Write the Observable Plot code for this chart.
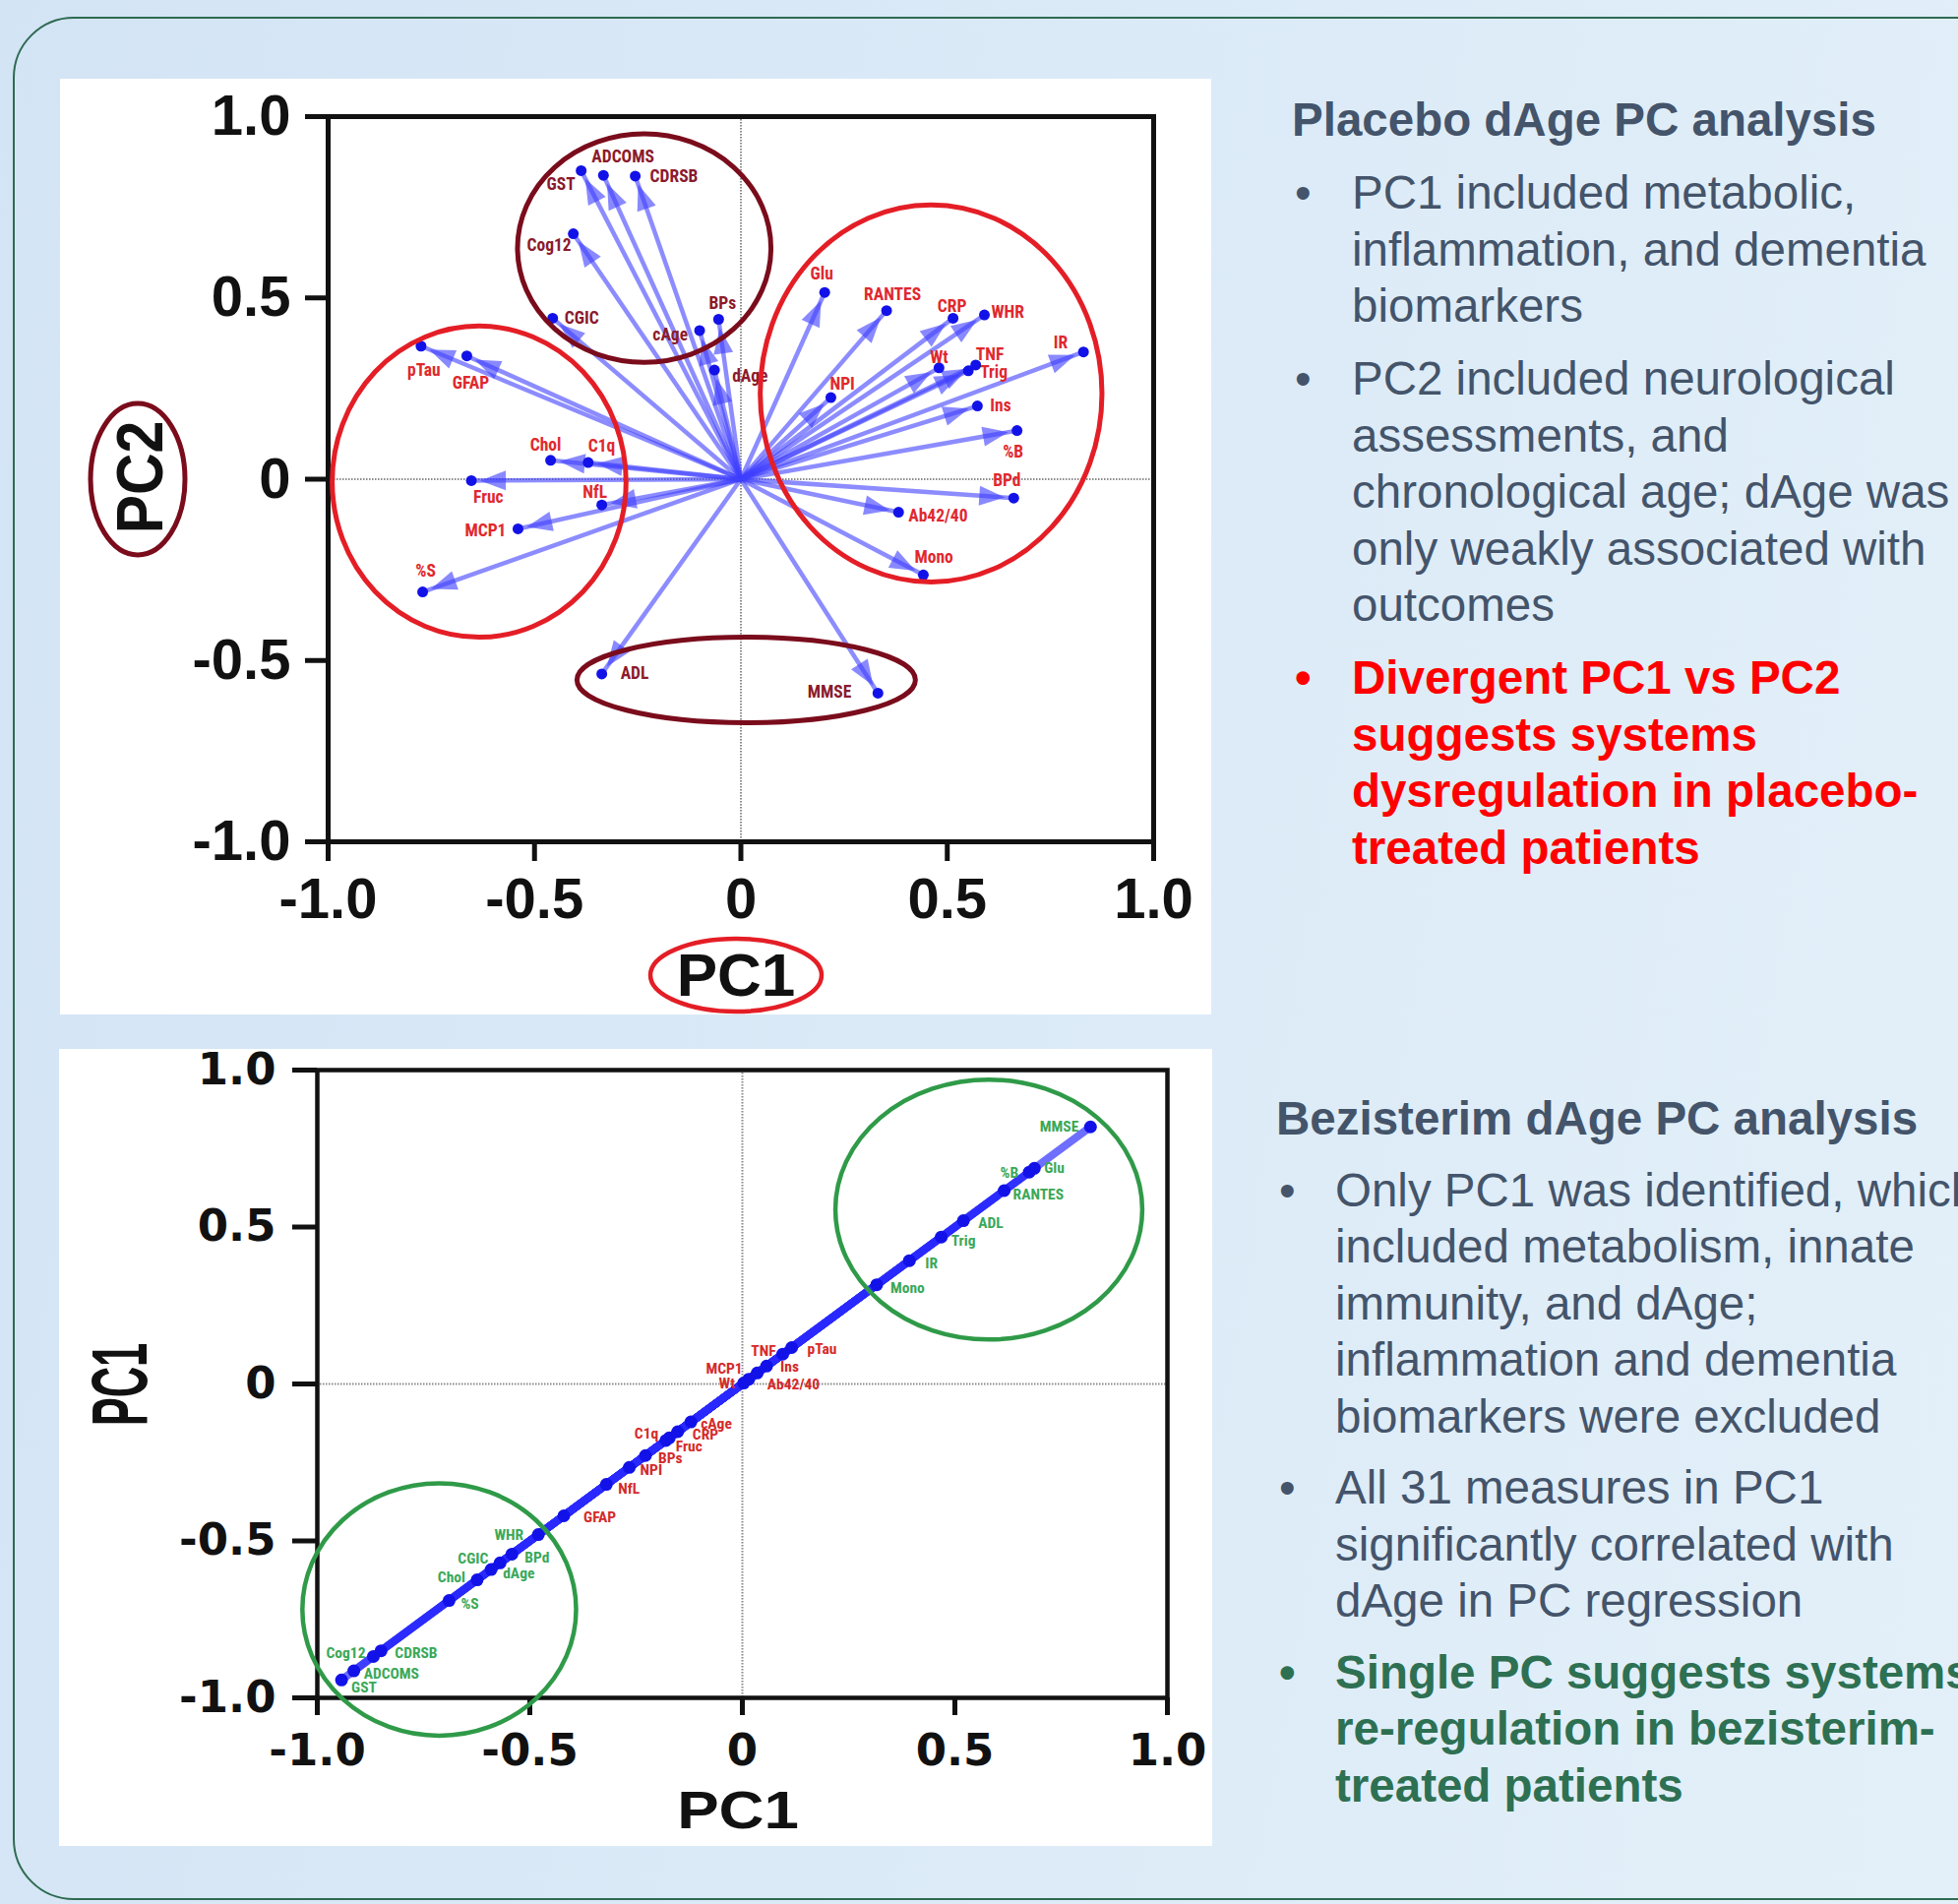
<!DOCTYPE html>
<html>
<head>
<meta charset="utf-8">
<script src="https://cdn.jsdelivr.net/npm/d3@7"></script>
<script src="https://cdn.jsdelivr.net/npm/@observablehq/plot@0.6"></script>
<style>
  html, body { margin: 0; padding: 0; }
  body {
    width: 1990px; height: 1935px; overflow: hidden; position: relative;
    background: linear-gradient(100deg, #d3e4f5 0%, #dbeaf7 50%, #e3f0f9 100%);
    font-family: "Liberation Sans", Arial, sans-serif;
  }
  #frameBox {
    position: absolute; left: 13px; top: 17px; width: 2200px; height: 1914px;
    border: 2.5px solid #2e6b52; border-radius: 62px; box-sizing: border-box;
  }
  .panel { position: absolute; background: white; }
  #topChart { left: 61px; top: 80px; width: 1170px; height: 951px; }
  #botChart { left: 60px; top: 1066px; width: 1172px; height: 810px; }
  #topChart svg [aria-label*="axis"] text {
    font-family: "Liberation Sans", Arial, sans-serif; font-size: 58px; font-weight: bold; fill: #111;
  }
  #botChart svg [aria-label*="axis"] text {
    font-family: "DejaVu Sans", sans-serif; font-size: 45px; font-weight: bold; fill: #111;
  }
  #topChart svg [aria-label$="axis tick"] path, #topChart svg [aria-label*="axis"] .tick line,
  #botChart svg [aria-label$="axis tick"] path, #botChart svg [aria-label*="axis"] .tick line {
    stroke-width: 5px; stroke: #111;
  }
  .notes { position: absolute; color: #44546a; font-size: 47.5px; line-height: 57.5px; white-space: nowrap; }
  .notes h2 { margin: 0; font-size: 47.5px; line-height: 57.5px; font-weight: bold; }
  .notes ul { list-style: none; margin: 0; padding: 0; }
  .notes li { position: relative; margin-top: 16.5px; }
  .notes li::before { content: "•"; position: absolute; left: 3px; top: 0; }
  #notesTop { left: 1313px; top: 93px; }
  #notesTop li { padding-left: 61px; }
  #notesBot { left: 1297px; top: 1108px; }
  #notesBot li { padding-left: 60px; margin-top: 15px; }
  .red { color: #ff0000; font-weight: bold; }
  .green { color: #2e7052; font-weight: bold; }
</style>
</head>
<body>
<div id="frameBox"></div>
<div id="topChart" class="panel"></div>
<div id="botChart" class="panel"></div>

<div id="notesTop" class="notes">
  <h2>Placebo dAge PC analysis</h2>
  <ul>
    <li>PC1 included metabolic,<br>inflammation, and dementia<br>biomarkers</li>
    <li>PC2 included neurological<br>assessments, and<br>chronological age; dAge was<br>only weakly associated with<br>outcomes</li>
    <li class="red">Divergent PC1 vs PC2<br>suggests systems<br>dysregulation in placebo-<br>treated patients</li>
  </ul>
</div>

<div id="notesBot" class="notes">
  <h2>Bezisterim dAge PC analysis</h2>
  <ul>
    <li>Only PC1 was identified, which<br>included metabolism, innate<br>immunity, and dAge;<br>inflammation and dementia<br>biomarkers were excluded</li>
    <li>All 31 measures in PC1<br>significantly correlated with<br>dAge in PC regression</li>
    <li class="green">Single PC suggests systems<br>re-regulation in bezisterim-<br>treated patients</li>
  </ul>
</div>

<script>
// ---------------- DATA ----------------
const measures = ["GST","ADCOMS","CDRSB","Cog12","CGIC","BPs","cAge","dAge","ADL","MMSE",
  "pTau","GFAP","Chol","C1q","Fruc","NfL","MCP1","%S",
  "Glu","RANTES","CRP","WHR","IR","Wt","TNF","Trig","NPI","Ins","%B","BPd","Ab42/40","Mono"];

// Placebo: loadings on PC1 (x) and PC2 (y)
const placeboPC1 = [-0.387,-0.333,-0.256,-0.406,-0.456,-0.054,-0.100,-0.064,-0.337,0.332,
  -0.775,-0.664,-0.461,-0.370,-0.653,-0.337,-0.540,-0.771,
  0.203,0.353,0.514,0.590,0.830,0.480,0.569,0.551,0.218,0.573,0.669,0.661,0.382,0.442];
const placeboPC2 = [0.851,0.838,0.836,0.677,0.444,0.441,0.410,0.301,-0.537,-0.590,
  0.367,0.340,0.052,0.046,-0.004,-0.071,-0.137,-0.311,
  0.515,0.465,0.444,0.453,0.351,0.307,0.315,0.299,0.225,0.202,0.134,-0.052,-0.091,-0.264];
// label colour group in the placebo plot
const placeboGroup = ["assessment","assessment","assessment","assessment","assessment","assessment","assessment","assessment","assessment","assessment",
  "biomarker","biomarker","biomarker","biomarker","biomarker","biomarker","biomarker","biomarker",
  "biomarker","biomarker","biomarker","biomarker","biomarker","biomarker","biomarker","biomarker","biomarker","biomarker","biomarker","biomarker","biomarker","biomarker"];

// Bezisterim: single PC1 loading (plotted PC1 vs PC1)
const bezisterimPC1 = [-0.943,-0.914,-0.850,-0.868,-0.570,-0.228,-0.121,-0.591,0.520,0.819,
  0.116,-0.420,-0.624,-0.172,-0.180,-0.320,0.035,-0.690,
  0.687,0.616,-0.152,-0.480,0.393,0.015,0.095,0.468,-0.266,0.057,0.675,-0.542,0.003,0.316];
const bezisterimGroup = ["circled","circled","circled","circled","circled","other","other","circled","circled","circled",
  "other","other","circled","other","other","other","other","circled",
  "circled","circled","other","circled","circled","other","other","circled","other","other","circled","circled","other","circled"];

const axisTicks = [-1, -0.5, 0, 0.5, 1];

// annotation ellipses (data units)
const placeboRings = [
  {cx: -0.233, cy: 0.636, rx: 0.307, ry: 0.315, kind: "assessment"},
  {cx: -0.633, cy: -0.008, rx: 0.356, ry: 0.429, kind: "biomarker"},
  {cx: 0.462, cy: 0.235, rx: 0.414, ry: 0.520, kind: "biomarker"},
  {cx: 0.014, cy: -0.555, rx: 0.410, ry: 0.118, kind: "assessment"}
];
const bezisterimRings = [
  {cx: 0.581, cy: 0.554, rx: 0.361, ry: 0.414},
  {cx: -0.712, cy: -0.720, rx: 0.322, ry: 0.402}
];

// label placement: [anchor, dx, dy] in pixels
const placeboLabelPos = {
  "GST":["end",-6,14], "ADCOMS":["start",-12,-19], "CDRSB":["start",15,0], "Cog12":["end",-2,12],
  "CGIC":["start",12,0], "pTau":["middle",3,25], "GFAP":["middle",4,28], "Chol":["middle",-5,-15],
  "C1q":["start",0,-17], "Fruc":["start",2,17], "NfL":["middle",-7,-13], "MCP1":["end",-12,2],
  "%S":["middle",3,-21], "ADL":["start",19,0], "MMSE":["end",-27,-1], "Ab42/40":["start",10,4],
  "Mono":["start",-9,-18], "Glu":["middle",-3,-19], "RANTES":["middle",6,-16], "CRP":["middle",-1,-12],
  "WHR":["start",7,-3], "IR":["end",-16,-9], "Wt":["middle",0,-10], "TNF":["start",0,-11],
  "Trig":["start",12,2], "NPI":["start",-1,-14], "Ins":["start",13,0], "%B":["middle",-4,22],
  "BPd":["middle",-7,-18], "BPs":["middle",4,-16], "cAge":["end",-12,4], "dAge":["start",18,6]
};
const bezisterimLabelPos = {
  "MMSE":["end",-12,0], "Glu":["start",10,0], "%B":["end",-11,1], "RANTES":["start",9,4],
  "ADL":["start",15,2], "Trig":["start",10,4], "IR":["start",16,3], "Mono":["start",14,3],
  "pTau":["start",16,2], "TNF":["end",-7,-3], "Ins":["start",14,1], "MCP1":["end",-15,-4],
  "Wt":["end",-14,4], "Ab42/40":["start",24,1], "cAge":["start",10,2], "CRP":["start",15,3],
  "C1q":["end",-11,-4], "Fruc":["start",10,6], "BPs":["start",13,3], "NPI":["start",11,3],
  "NfL":["start",12,4], "GFAP":["start",20,2], "WHR":["end",-15,0], "BPd":["start",13,4],
  "CGIC":["end",-12,-4], "dAge":["start",12,4], "Chol":["end",-12,-3], "%S":["start",12,3],
  "CDRSB":["start",14,2], "Cog12":["end",-8,-3], "ADCOMS":["start",10,3], "GST":["start",10,8]
};

// ---------------- BUILD ----------------
const placebo = measures.map((name, i) => ({name, pc1: placeboPC1[i], pc2: placeboPC2[i], group: placeboGroup[i]}));
const bezisterim = measures.map((name, i) => ({name, v: bezisterimPC1[i], group: bezisterimGroup[i]}));

const LABEL_FONT = "'Liberation Sans Narrow', 'Roboto Condensed', 'DejaVu Sans Condensed', Roboto, sans-serif";
const fmt = d => d === 0 ? "0" : d.toFixed(1);
const ARROW = "#4040ff";
const DOT = "#1212e8";

const colorPlacebo = {assessment: "#8b1a2c", biomarker: "#e0282e"};
const colorBez = {circled: "#3aa858", other: "#d42a2a"};
const ringPlacebo = {assessment: "#7a0c1c", biomarker: "#e41e26"};

function addRings(svg, rings, colorOf, width) {
  const sx = svg.scale("x"), sy = svg.scale("y");
  const g = d3.select(svg).append("g").attr("fill", "none");
  for (const r of rings) {
    const cx = sx.apply(r.cx), cy = sy.apply(r.cy);
    g.append("ellipse")
      .attr("cx", cx).attr("cy", cy)
      .attr("rx", Math.abs(sx.apply(r.cx + r.rx) - cx))
      .attr("ry", Math.abs(sy.apply(r.cy + r.ry) - cy))
      .attr("stroke", colorOf(r)).attr("stroke-width", width);
  }
}

// ---------- Top (placebo) ----------
{
  const W = 1170, H = 951, ML = 272, MR = 59, MT = 38, MB = 176;
  const kx = (W - ML - MR) / 2, ky = (H - MT - MB) / 2;
  const headShape = {
    draw(ctx, l) {
      const tip = -l + 9;
      ctx.moveTo(0, tip); ctx.lineTo(10, tip + 26); ctx.lineTo(-10, tip + 26); ctx.closePath();
    }
  };
  const labelMarks = placebo.map(d => {
    const p = placeboLabelPos[d.name];
    return Plot.text([d], {x: "pc1", y: "pc2", text: "name", textAnchor: p[0], dx: p[1], dy: p[2],
      fill: colorPlacebo[d.group], fontSize: 17.5, fontWeight: "bold", fontFamily: LABEL_FONT});
  });
  const common = {
    width: W, height: H, marginLeft: ML, marginRight: MR, marginTop: MT, marginBottom: MB,
    x: {domain: [-1, 1], ticks: axisTicks, tickFormat: fmt, tickSize: 20, tickPadding: 16, label: null},
    y: {domain: [-1, 1], ticks: axisTicks, tickFormat: fmt, tickSize: 23, tickPadding: 15, label: null},
    style: {background: "white", overflow: "visible", fontFamily: "Liberation Sans, Arial, sans-serif", color: "#111"}
  };
  const baseMarks = [
    Plot.ruleX([0], {stroke: "#8a8a8a", strokeWidth: 2, strokeDasharray: "1.5,1.5"}),
    Plot.ruleY([0], {stroke: "#8a8a8a", strokeWidth: 2, strokeDasharray: "1.5,1.5"}),
    Plot.link(placebo, {x1: () => 0, y1: () => 0, x2: "pc1", y2: "pc2", stroke: ARROW, strokeOpacity: 0.6, strokeWidth: 4.5})
  ];
  const endMarks = [
    Plot.dot(placebo, {x: "pc1", y: "pc2", r: 5.5, fill: DOT}),
    Plot.frame({stroke: "#111", strokeWidth: 5}),
    ...labelMarks
  ];
  let svg;
  try {
    svg = Plot.plot({...common, marks: [...baseMarks,
      Plot.vector(placebo, {x: "pc1", y: "pc2", length: 40, anchor: "end", shape: headShape,
        rotate: d => Math.atan2(d.pc1 * kx, d.pc2 * ky) * 180 / Math.PI,
        fill: ARROW, fillOpacity: 0.62, stroke: "none"}),
      ...endMarks]});
  } catch (e) {
    svg = Plot.plot({...common, marks: [...baseMarks,
      Plot.arrow(placebo, {x1: () => 0, y1: () => 0, x2: "pc1", y2: "pc2", stroke: ARROW, strokeOpacity: 0.55, strokeWidth: 4, insetEnd: 10, headLength: 22}),
      ...endMarks]});
  }
  document.getElementById("topChart").appendChild(svg);
  addRings(svg, placeboRings, r => ringPlacebo[r.kind], 5);

  const s = d3.select(svg);
  // axis titles with ring highlights
  s.append("ellipse").attr("cx", 687).attr("cy", 911).attr("rx", 87).attr("ry", 37)
    .attr("fill", "none").attr("stroke", "#e41e26").attr("stroke-width", 4.5);
  s.append("text").attr("x", 687).attr("y", 932).attr("text-anchor", "middle")
    .attr("font-family", "Liberation Sans, Arial, sans-serif").attr("font-weight", "bold")
    .attr("font-size", 62).attr("fill", "#111").text("PC1");
  s.append("ellipse").attr("cx", 79).attr("cy", 407).attr("rx", 48).attr("ry", 77)
    .attr("fill", "none").attr("stroke", "#7a0c1c").attr("stroke-width", 5);
  s.append("text").attr("transform", "translate(104,405) rotate(-90) scale(0.95,1.08)").attr("text-anchor", "middle")
    .attr("font-family", "Liberation Sans, Arial, sans-serif").attr("font-weight", "bold")
    .attr("font-size", 62).attr("fill", "#111").text("PC2");
}

// ---------- Bottom (bezisterim) ----------
{
  const W = 1172, H = 810, ML = 262, MR = 46, MT = 21, MB = 151;
  const labelMarks = bezisterim.map(d => {
    const p = bezisterimLabelPos[d.name];
    return Plot.text([d], {x: "v", y: "v", text: "name", textAnchor: p[0], dx: p[1], dy: p[2],
      fill: colorBez[d.group], fontSize: 15.5, fontWeight: "bold", fontFamily: LABEL_FONT});
  });
  const svg = Plot.plot({
    width: W, height: H, marginLeft: ML, marginRight: MR, marginTop: MT, marginBottom: MB,
    x: {domain: [-1, 1], ticks: axisTicks, tickFormat: fmt, tickSize: 18, tickPadding: 19, label: null},
    y: {domain: [-1, 1], ticks: axisTicks, tickFormat: fmt, tickSize: 25, tickPadding: 17, label: null},
    style: {background: "white", overflow: "visible", fontFamily: "DejaVu Sans, sans-serif", color: "#111"},
    marks: [
      Plot.ruleX([0], {stroke: "#8a8a8a", strokeWidth: 2, strokeDasharray: "1.5,1.5"}),
      Plot.ruleY([0], {stroke: "#8a8a8a", strokeWidth: 2, strokeDasharray: "1.5,1.5"}),
      Plot.link(bezisterim, {x1: () => 0, y1: () => 0, x2: "v", y2: "v", stroke: "#2a2aff", strokeOpacity: 0.68, strokeWidth: 8}),
      Plot.dot(bezisterim, {x: "v", y: "v", r: 6.5, fill: DOT}),
      Plot.frame({stroke: "#111", strokeWidth: 4.5}),
      ...labelMarks
    ]
  });
  document.getElementById("botChart").appendChild(svg);
  addRings(svg, bezisterimRings, () => "#2f9a48", 4.5);

  const s = d3.select(svg);
  s.append("text").attr("transform", "translate(690,792) scale(1.2,1)").attr("text-anchor", "middle")
    .attr("font-family", "Liberation Sans, Arial, sans-serif").attr("font-weight", "bold")
    .attr("font-size", 53).attr("fill", "#111").text("PC1");
  s.append("text").attr("transform", "translate(89,341) rotate(-90) scale(0.87,1.6)").attr("text-anchor", "middle")
    .attr("font-family", "Liberation Sans, Arial, sans-serif").attr("font-weight", "bold")
    .attr("font-size", 50).attr("fill", "#111").text("PC1");
}
</script>
</body>
</html>
